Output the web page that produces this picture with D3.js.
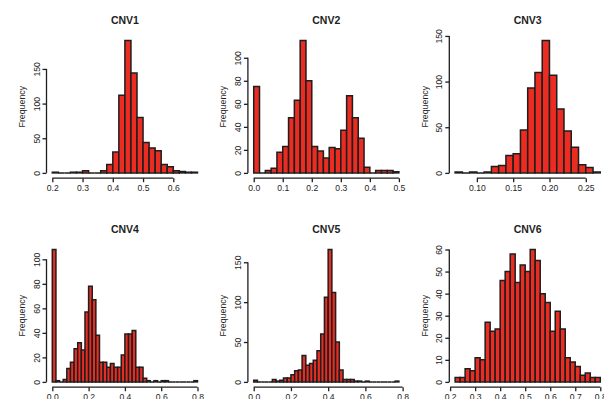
<!DOCTYPE html>
<html>
<head>
<meta charset="utf-8">
<script src="https://cdn.jsdelivr.net/npm/d3@7"></script>
<style>
  html, body { margin: 0; padding: 0; background: #fff; }
  svg { display: block; font-family: "Liberation Sans", Arial, Helvetica, sans-serif; }
</style>
</head>
<body>
<svg id="chart" width="604" height="399"></svg>
<script>
// Histogram counts per CNV, with bin start and bin width
const titles = ["CNV1", "CNV2", "CNV3", "CNV4", "CNV5", "CNV6"];
const binStarts = [0.20, 0.00, 0.07, 0.00, 0.00, 0.22];
const binWidths = [0.02, 0.02, 0.01, 0.02, 0.02, 0.02];

const cnv1Counts = [1,0,0,1,1,3,0,0,3,12,30,112,191,144,80,44,36,32,12,9,3,2,1,1];
const cnv2Counts = [75,0,2,4,18,23,48,63,115,80,23,19,13,22,21,37,67,48,30,5,0,2,2,2,1];
const cnv3Counts = [1,0,1,0,1,7,8,19,21,47,93,110,145,107,70,46,28,9,6,1];
const cnv4Counts = [108,1,0,2,11,16,27,32,26,57,78,67,38,16,16,12,15,12,12,22,39,39,42,12,12,3,1,0,1,0,1,1,0,0,0,0,0,0,0,1];
const cnv5Counts = [2,0,0,0,0,3,1,2,5,5,9,14,15,33,21,23,27,39,60,106,166,112,50,15,3,3,3,1,1,0,1,0,0,0,0,0,0,0,1];
const cnv6Counts = [2,2,6,5,11,10,27,23,24,46,50,58,45,53,50,60,55,40,36,23,32,24,11,9,7,3,4,2,2];

// Axis tick values
const xTicks1 = [0.2, 0.3, 0.4, 0.5, 0.6];
const xTicks2 = [0.0, 0.1, 0.2, 0.3, 0.4, 0.5];
const xTicks3 = [0.10, 0.15, 0.20, 0.25];
const xTicks4 = [0.0, 0.2, 0.4, 0.6, 0.8];
const xTicks5 = [0.0, 0.2, 0.4, 0.6, 0.8];
const xTicks6 = [0.2, 0.3, 0.4, 0.5, 0.6, 0.7, 0.8];

const yTicks1 = [0, 50, 100, 150];
const yTicks2 = [0, 20, 40, 60, 80, 100];
const yTicks3 = [0, 50, 100, 150];
const yTicks4 = [0, 20, 40, 60, 80, 100];
const yTicks5 = [0, 50, 100, 150];
const yTicks6 = [0, 10, 20, 30, 40, 50, 60];

const xDecimals = [1, 1, 2, 1, 1, 1];

const countsList = [cnv1Counts, cnv2Counts, cnv3Counts, cnv4Counts, cnv5Counts, cnv6Counts];
const xTicksList = [xTicks1, xTicks2, xTicks3, xTicks4, xTicks5, xTicks6];
const yTicksList = [yTicks1, yTicks2, yTicks3, yTicks4, yTicks5, yTicks6];

// Layout of the 2 x 3 grid of plot regions
const colStep = 201.4, rowStep = 209;
const plotLeft = 46.5, plotTop = 35.2, plotW = 156.8, plotH = 143;
const fillColor = "#ea2c22", ink = "#1e1e1e";
const tickFont = 8.6, titleFont = 10.5;

const svg = d3.select("#chart");

titles.forEach((title, i) => {
  const counts = countsList[i];
  const lo = binStarts[i], w = binWidths[i];
  const hi = lo + counts.length * w;
  const pad = 0.04 * (hi - lo);
  const ymax = d3.max(counts);

  const col = i % 3, row = Math.floor(i / 3);
  const left = plotLeft + col * colStep;
  const top = plotTop + row * rowStep;

  const x = d3.scaleLinear().domain([lo - pad, hi + pad]).range([left, left + plotW]);
  const y = d3.scaleLinear().domain([-0.04 * ymax, 1.04 * ymax]).range([top + plotH, top]);

  const bins = counts.map((c, k) => ({ x0: lo + k * w, x1: lo + (k + 1) * w, count: c }));

  const g = svg.append("g");

  // bars as closed outlines, so empty bins still show as a flat line
  g.selectAll("path.bar").data(bins).join("path")
    .attr("class", "bar")
    .attr("d", d => {
      const p = d3.path();
      p.moveTo(x(d.x0), y(0));
      p.lineTo(x(d.x0), y(d.count));
      p.lineTo(x(d.x1), y(d.count));
      p.lineTo(x(d.x1), y(0));
      p.closePath();
      return p.toString();
    })
    .attr("fill", fillColor)
    .attr("stroke", ink)
    .attr("stroke-width", 1.5)
    .attr("stroke-linejoin", "miter");

  // x axis at bottom edge of the plot region
  const xt = xTicksList[i];
  const xAxis = g.append("g")
    .attr("transform", `translate(0,${top + plotH})`)
    .call(d3.axisBottom(x).tickValues(xt).tickSize(4).tickSizeOuter(0)
      .tickFormat(d3.format(`.${xDecimals[i]}f`)));
  xAxis.select(".domain").remove();
  xAxis.append("line")
    .attr("x1", x(xt[0])).attr("x2", x(xt[xt.length - 1]))
    .attr("stroke", ink).attr("stroke-width", 1.3);
  xAxis.selectAll(".tick line").attr("stroke", ink).attr("stroke-width", 1.3);
  xAxis.selectAll(".tick text")
    .attr("y", 12.8).attr("dy", null)
    .attr("fill", ink).style("font-size", tickFont + "px")
    .style("font-family", "Liberation Sans, Arial, sans-serif");

  // y axis at left edge, labels parallel to the axis
  const yt = yTicksList[i];
  const yAxis = g.append("g")
    .attr("transform", `translate(${left},0)`)
    .call(d3.axisLeft(y).tickValues(yt).tickSize(4).tickSizeOuter(0));
  yAxis.select(".domain").remove();
  yAxis.append("line")
    .attr("y1", y(yt[0])).attr("y2", y(yt[yt.length - 1]))
    .attr("stroke", ink).attr("stroke-width", 1.3);
  yAxis.selectAll(".tick line").attr("stroke", ink).attr("stroke-width", 1.3);
  yAxis.selectAll(".tick text")
    .attr("transform", "rotate(-90)")
    .attr("x", 0).attr("y", -7).attr("dy", null)
    .attr("text-anchor", "middle")
    .attr("fill", ink).style("font-size", tickFont + "px")
    .style("font-family", "Liberation Sans, Arial, sans-serif");

  // y axis title
  const midY = top + plotH / 2;
  g.append("text")
    .attr("transform", `translate(${left - 21.5},${midY}) rotate(-90)`)
    .attr("text-anchor", "middle")
    .attr("fill", ink)
    .style("font-size", "8.8px")
    .text("Frequency");

  // panel title
  g.append("text")
    .attr("x", left + plotW / 2)
    .attr("y", top - 11.2)
    .attr("text-anchor", "middle")
    .attr("fill", ink)
    .style("font-size", titleFont + "px")
    .style("font-weight", "bold")
    .text(title);
});
</script>
</body>
</html>
